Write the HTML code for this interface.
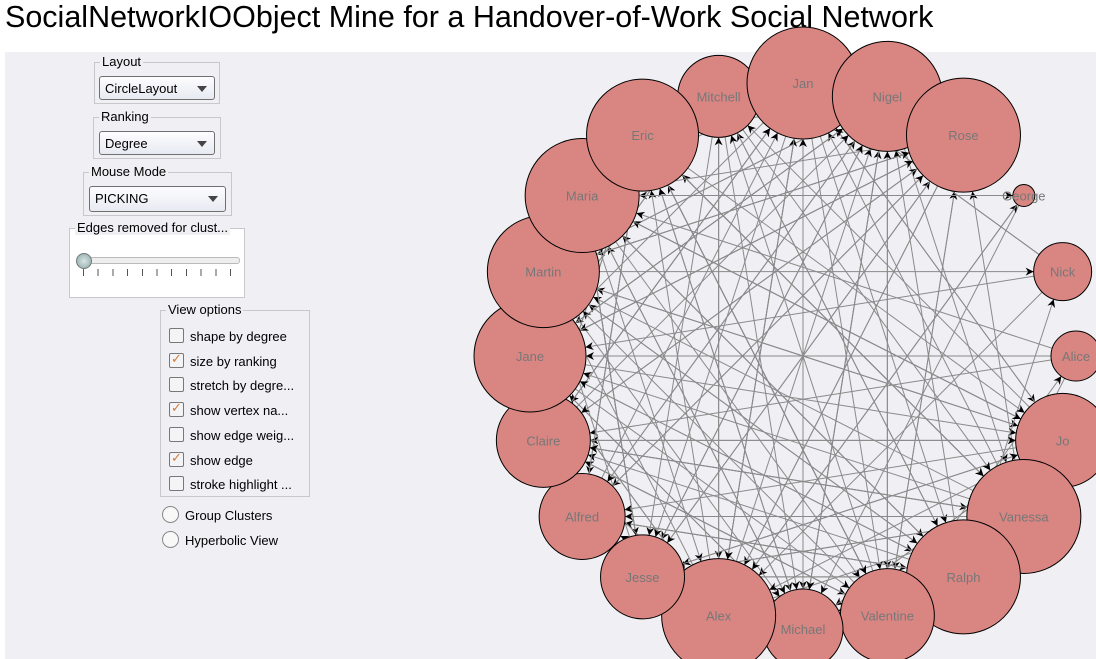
<!DOCTYPE html>
<html><head><meta charset="utf-8"><style>
body{margin:0;width:1096px;height:659px;background:#fff;font-family:"Liberation Sans",sans-serif;overflow:hidden;position:relative}
#title{position:absolute;left:5px;top:0px;font-size:30.5px;color:#000;white-space:nowrap}
#panel{position:absolute;left:5px;top:52px;width:1091px;height:607px;background:#f0f0f4}
.grp{position:absolute;border:1px solid #c8c8cc;box-sizing:border-box}
.lg{position:absolute;top:-9px;left:5px;background:#f0f0f4;font-size:13px;padding:0 2px;color:#000}
.combo{position:absolute;border:1px solid #707070;border-radius:3px;background:linear-gradient(#fdfdff,#e8eaf2);font-size:13px;box-sizing:border-box;padding:4px 5px}
.combo:after{content:"";position:absolute;right:7px;top:9px;border:5px solid transparent;border-top:6px solid #444}
.cb{position:absolute;left:8px;font-size:13px;white-space:nowrap}
.box{display:inline-block;width:13px;height:13px;border:1px solid #777;border-radius:2px;background:#f4f4f6;vertical-align:-2px;margin-right:6px;position:relative}
.box.on:after{content:"✓";position:absolute;left:1px;top:-3px;color:#d07a3a;font-size:13px}
.rad{position:absolute;left:157px;font-size:13px}
.rad i{display:inline-block;width:15px;height:15px;border:1px solid #888;border-radius:50%;background:#f8f8f8;vertical-align:-3px;margin-right:6px}
svg{position:absolute;left:0;top:0}
</style></head><body>
<div id="title">SocialNetworkIOObject Mine for a Handover-of-Work Social Network</div>
<div id="panel">
 <div class="grp" style="left:89px;top:10px;width:126px;height:42px"><span class="lg">Layout</span>
  <div class="combo" style="left:4px;top:13px;width:116px;height:24px">CircleLayout</div></div>
 <div class="grp" style="left:88px;top:65px;width:128px;height:42px"><span class="lg">Ranking</span>
  <div class="combo" style="left:5px;top:13px;width:116px;height:24px">Degree</div></div>
 <div class="grp" style="left:78px;top:120px;width:149px;height:44px"><span class="lg">Mouse Mode</span>
  <div class="combo" style="left:5px;top:13px;width:137px;height:26px">PICKING</div></div>
 <div class="grp" style="left:64px;top:176px;width:176px;height:70px;background:#fff"><span class="lg">Edges removed for clust...</span>
  <div style="position:absolute;left:8px;top:28px;width:160px;height:5px;border:1px solid #bbb;border-radius:3px;background:#eee"></div>
  <div style="position:absolute;left:6px;top:24px;width:14px;height:14px;border-radius:50%;background:radial-gradient(#d8e4e4,#8aa8a8);border:1px solid #777"></div>
  <div style="position:absolute;left:13px;top:40px;width:150px;height:7px;background:repeating-linear-gradient(90deg,#555 0 1px,transparent 1px 14.7px)"></div>
 </div>
 <div class="grp" style="left:155px;top:258px;width:150px;height:187px"><span class="lg">View options</span>
  <div class="cb" style="top:17px"><span class="box"></span>shape by degree</div>
  <div class="cb" style="top:42px"><span class="box on"></span>size by ranking</div>
  <div class="cb" style="top:66px"><span class="box"></span>stretch by degre...</div>
  <div class="cb" style="top:91px"><span class="box on"></span>show vertex na...</div>
  <div class="cb" style="top:116px"><span class="box"></span>show edge weig...</div>
  <div class="cb" style="top:141px"><span class="box on"></span>show edge</div>
  <div class="cb" style="top:165px"><span class="box"></span>stroke highlight ...</div>
 </div>
 <div class="rad" style="top:454px"><i></i>Group Clusters</div>
 <div class="rad" style="top:479px"><i></i>Hyperbolic View</div>
</div>
<svg id="g" width="1096" height="659">
<defs><marker id="ar" viewBox="0 0 10 10" refX="10" refY="5" markerWidth="10" markerHeight="8" orient="auto" markerUnits="userSpaceOnUse"><path d="M0,0L10,5L0,10L3,5z" fill="#000"/></marker></defs>
</svg>
<script>
const names=["Jan","Nigel","Rose","George","Nick","Alice","Jo","Vanessa","Ralph","Valentine","Michael","Alex","Jesse","Alfred","Claire","Jane","Martin","Maria","Eric","Mitchell"];
const radii=[56,55,57,11,29,25,47,57,57,47,40,57,42,43,47,56,56,57,56,41];
const drawOrder=[19,3,4,5,0,1,2,6,7,8,9,10,11,12,13,14,15,16,17,18];
const edgeFrom=[0,0,0,0,0,1,1,1,1,1,2,2,2,2,2,3,3,4,4,4,5,5,5,6,6,6,6,7,7,7,7,7,8,8,8,8,9,9,9,9,10,10,10,11,11,11,11,11,12,12,12,13,13,13,14,14,14,14,15,15,15,15,15,16,16,16,16,17,17,17,17,18,18,18,18,19,19,19,0,1,2,6,7,8,11,15,16,17,18,9,10,12,13,14,4,5,0,3,19,11,8,7,15,16,2,1,
 0,0,1,1,2,2,6,6,7,7,8,8,9,9,10,10,11,11,12,12,13,13,14,14,15,15,16,16,17,17,18,18,19,19,0,1,2,7,8,9,10,11,12,13,14,15,16,17,18,6,7,8,11,15,16,17,0,2,9,12,14,18,10,13,19,6,8,11];
const edgeTo=[8,11,14,6,17,10,12,15,7,18,11,16,9,13,19,17,10,15,11,0,14,17,8,16,19,0,12,18,0,13,2,10,16,1,12,19,18,2,14,5,17,1,15,18,3,7,9,1,2,7,16,1,8,0,0,9,2,18,11,6,8,19,1,10,2,6,8,11,12,9,6,13,7,16,10,0,15,11,10,9,12,10,18,17,15,17,14,10,14,18,0,6,18,7,0,15,17,11,7,13,4,14,9,19,15,16,
 12,15,13,16,15,17,14,17,15,16,14,17,16,19,13,18,14,0,17,1,16,2,17,1,18,2,19,4,8,6,7,9,8,12,9,10,11,12,13,14,15,16,17,18,0,1,2,3,6,13,14,15,19,18,17,12,11,14,1,8,6,9,6,11,10,11,13,14];
const svg=document.getElementById('g');const NS="http://www.w3.org/2000/svg";
const cx=803,cy=356,R=273;
function pos(i){const a=(i*360/names.length-90)*Math.PI/180;return [cx+R*Math.cos(a),cy+R*Math.sin(a)];}
for(let k=0;k<edgeFrom.length;k++){
 const a=edgeFrom[k],b=edgeTo[k];if(a===b)continue;
 const [x1,y1]=pos(a),[x2,y2]=pos(b);const d=Math.hypot(x2-x1,y2-y1);
 const tx=x2-(x2-x1)/d*radii[b],ty=y2-(y2-y1)/d*radii[b];
 const l=document.createElementNS(NS,'line');
 
 
 l.setAttribute('x1',x1);l.setAttribute('y1',y1);l.setAttribute('x2',tx);l.setAttribute('y2',ty);
 l.setAttribute('stroke','#8a8a8a');l.setAttribute('stroke-width','1');l.setAttribute('marker-end','url(#ar)');
 svg.appendChild(l);
}
drawOrder.forEach(i=>{
 const n=names[i];const [x,y]=pos(i);
 const c=document.createElementNS(NS,'circle');
 
 
 c.setAttribute('cx',x);c.setAttribute('cy',y);c.setAttribute('r',radii[i]);
 c.setAttribute('fill','#d98683');c.setAttribute('stroke','#000');c.setAttribute('stroke-width','1');
 svg.appendChild(c);
});
names.forEach((n,i)=>{
 const [x,y]=pos(i);
 const t=document.createElementNS(NS,'text');
 
 
 t.setAttribute('x',x);t.setAttribute('y',y+5);t.setAttribute('text-anchor','middle');
 t.setAttribute('font-size','13');t.setAttribute('fill','#777');t.setAttribute('font-family','Liberation Sans, sans-serif');
 t.textContent=n;svg.appendChild(t);
});
</script>
</body></html>
